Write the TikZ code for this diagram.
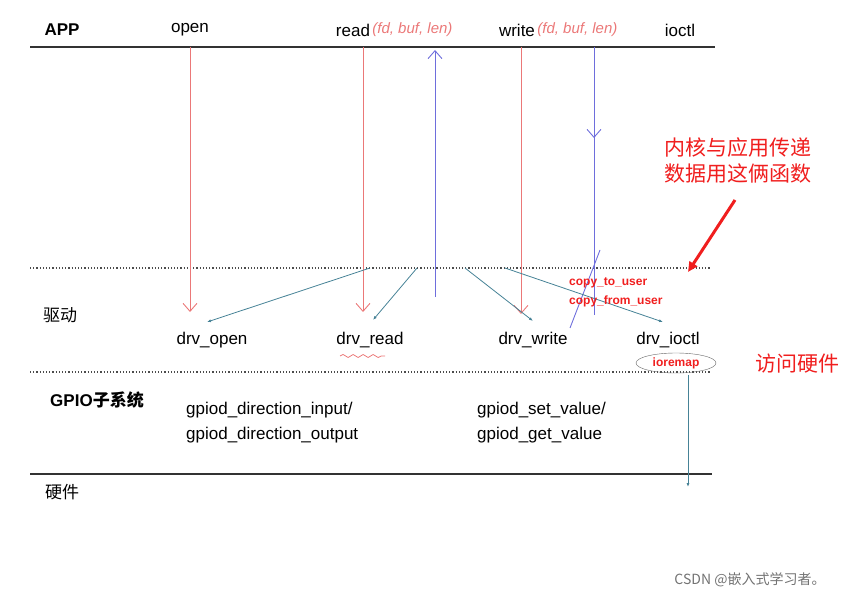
\documentclass[tikz,border=0pt]{standalone}
\usepackage{fontspec}
\setmainfont{Liberation Sans}
\newfontfamily\cjk{Noto Sans CJK SC}
\usepackage{xcolor}
\usetikzlibrary{arrows.meta, positioning, decorations.pathmorphing, shapes.geometric}
\definecolor{callred}{RGB}{235,120,120}
\definecolor{userblue}{RGB}{110,110,220}
\definecolor{linkteal}{RGB}{70,130,150}
\definecolor{notered}{RGB}{240,30,30}

\begin{document}
\begin{tikzpicture}[x=1pt, y=-1pt,
    every node/.style={font=\fontsize{17}{19}\selectfont, inner sep=1pt},
    layer/.style={draw=black!80, line width=1.2pt},
    gap/.style={draw=black!70, line width=1.2pt, dotted},
    call/.style={draw=callred, line width=0.9pt, -{Straight Barb[length=8pt, width=14pt]}},
    back/.style={draw=userblue, line width=0.9pt},
    link/.style={draw=linkteal, line width=0.8pt, -{Latex[length=4pt, width=3pt]}},
    hand/.style={text=callred, font=\fontsize{15}{17}\selectfont\itshape},
    note/.style={text=notered, font=\cjk\fontsize{21}{26}\selectfont, align=left},
    fn/.style={text=notered, font=\fontsize{12}{14}\selectfont\bfseries}]
  \useasboundingbox (0,0) rectangle (867,599);

  % layers
  \draw[layer] (30,47) -- (715,47);
  \draw[gap] (30,268) -- (710,268);
  \draw[gap] (30,372) -- (710,372);
  \draw[layer] (30,474) -- (712,474);

  % app level
  \node[font=\fontsize{17}{19}\selectfont\bfseries] (app) at (62,30) {APP};
  \node (open) at (190,30) {open};
  \node (read) at (353,30) {read};
  \node[hand, right=0pt of read] (readargs) {(fd, buf, len)};
  \node (write) at (517,30) {write};
  \node[hand, right=0pt of write] (writeargs) {(fd, buf, len)};
  \node (ioctl) at (680,30) {ioctl};

  % driver level
  \node (drv) at (60,315) {\cjk 驱动};
  \node (dopen) at (212,340) {drv\_open};
  \node (dread) at (370,340) {drv\_read};
  \node (dwrite) at (533,340) {drv\_write};
  \node (dioctl) at (668,340) {drv\_ioctl};
  \draw[callred, line width=0.8pt, decorate, decoration={snake, amplitude=1.5pt, segment length=10pt}]
    (340,356) -- (385,356);

  % gpio level
  \node[font=\fontsize{17}{19}\selectfont\bfseries] (gpio) at (97,400) {GPIO\cjk 子系统};
  \node[anchor=west] (din) at (185,410) {gpiod\_direction\_input/};
  \node[anchor=west] (dout) at (185,435) {gpiod\_direction\_output};
  \node[anchor=west] (setv) at (476,410) {gpiod\_set\_value/};
  \node[anchor=west] (getv) at (476,435) {gpiod\_get\_value};
  \node (hw) at (62,492) {\cjk 硬件};

  % calls down
  \draw[call] (190,47) -- (190,312);
  \draw[call] (363,47) -- (363,312);
  \draw[call] (521,47) -- (521,314);

  % data between user and kernel
  \draw[back, -{Straight Barb[length=8pt, width=14pt]}] (435,297) -- (435,50);
  \draw[back] (594,47) -- (594,315);
  \draw[back, -{Straight Barb[length=8pt, width=14pt]}] (594,47) -- (594,138);
  \draw[back] (600,250) -- (570,328);

  % links to drivers
  \coordinate (l1) at (370,268);
  \coordinate (l2) at (417,268);
  \coordinate (l3) at (465,268);
  \coordinate (l4) at (505,268);
  \draw[link] (l1) -- (207,322);
  \draw[link] (l2) -- (373,320);
  \draw[link] (l3) -- (533,321);
  \draw[link] (l4) -- (663,322);

  % notes
  \node[fn, anchor=west] (ctu) at (568,283) {copy\_to\_user};
  \node[fn, anchor=west] (cfu) at (568,301) {copy\_from\_user};
  \node[note] (kernote) at (738,160) {内核与应用传递\\数据用这俩函数};
  \draw[notered, line width=3pt, -{Triangle[length=10pt, width=9pt]}] (735,200) -- (688,272);
  \node[draw=black!60, thin, ellipse, inner sep=0pt, minimum width=80pt, minimum height=20pt] (iorm) at (676,363) {};
  \node[fn] (iormt) at (676,363) {ioremap};
  \coordinate (hwend) at (688,487);
  \draw[link] (688,375) -- (hwend);
  \node[note] (hwnote) at (797,364) {访问硬件};

  \node[text=black!55, font=\cjk\fontsize{14}{16}\selectfont] (mark) at (750,580) {CSDN @嵌入式学习者。};
\end{tikzpicture}
\end{document}
